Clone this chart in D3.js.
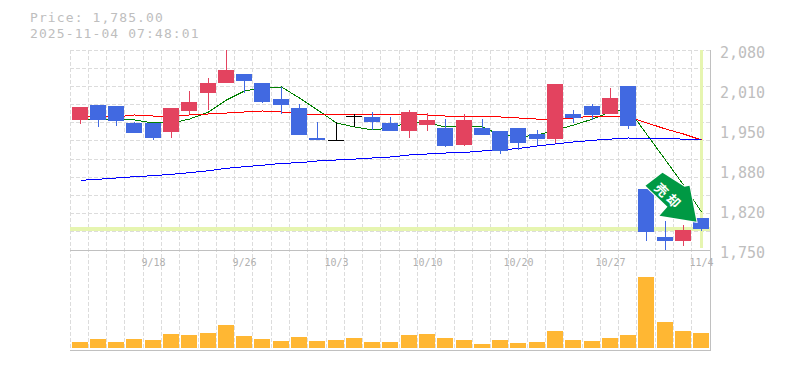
<!DOCTYPE html>
<html>
<head>
<meta charset="utf-8">
<script src="https://cdn.jsdelivr.net/npm/d3@7"></script>
<style>
    html, body { margin: 0; padding: 0; background: #fff; }
    svg { display: block; }
    text { font-family: 'DejaVu Sans Mono', monospace; fill: #bebebe; }
</style>
</head>
<body>
<svg id="chart" width="785" height="370"></svg>
<script>
const priceText = 'Price: 1,785.00';
const timeText = '2025-11-04 07:48:01';

const opens = [1964, 1989, 1988, 1960, 1960, 1945, 1979, 2009, 2026, 2040, 2026, 1999, 1984, 1935, 1932, 1971, 1969, 1960, 1946, 1956, 1951, 1922, 1951, 1946, 1951, 1941, 1933, 1974, 1988, 1974, 2021, 1851, 1771, 1765, 1803];
const closes = [1986, 1964, 1964, 1943, 1936, 1984, 1994, 2026, 2047, 2029, 1994, 1989, 1940, 1932, 1932, 1971, 1960, 1946, 1978, 1964, 1922, 1964, 1940, 1913, 1926, 1933, 2024, 1968, 1973, 2001, 1955, 1780, 1765, 1783, 1785];
const highs = [1986, 1989, 1988, 1961, 1960, 1984, 2012, 2034, 2080, 2040, 2026, 2019, 1991, 1961, 1961, 1974, 1978, 1969, 1981, 1976, 1966, 1974, 1966, 1946, 1951, 1948, 2024, 1981, 1991, 2017, 2021, 1851, 1798, 1791, 1803];
const lows = [1958, 1953, 1955, 1943, 1931, 1935, 1974, 1981, 2026, 2009, 1992, 1974, 1940, 1932, 1932, 1953, 1948, 1946, 1935, 1946, 1920, 1922, 1940, 1908, 1915, 1923, 1926, 1960, 1965, 1974, 1950, 1765, 1750, 1757, 1781];
const volumes = [6, 9, 6, 9, 8, 14, 13, 15, 23, 12, 9, 7, 11, 7, 8, 10, 6, 6, 13, 14, 10, 8, 4, 8, 5, 6, 17, 8, 7, 10, 13, 71, 26, 17, 15];

const maShort = [1966, 1966, 1966, 1964.5, 1959.6, 1959.6, 1966, 1977.7, 1997.5, 2012.4, 2017.3, 2019, 2000.8, 1981, 1959.6, 1953, 1948, 1951.3, 1961, 1959.6, 1953, 1953, 1953, 1939.8, 1936.5, 1939.8, 1948, 1956, 1966, 1977.7, 1982.6, 1941.4, 1898.5, 1857.3, 1812.7];
const maMid = [1969.5, 1969.5, 1969.5, 1972.8, 1971, 1971, 1972.8, 1974.4, 1976, 1977.7, 1979.4, 1977.7, 1974.4, 1972.8, 1972.8, 1972.8, 1972.8, 1972.8, 1972.8, 1972.8, 1971, 1971, 1969.5, 1969.5, 1967.8, 1966, 1966, 1967.8, 1971, 1971, 1969.5, 1960, 1949.7, 1941.4, 1931.5];
const maLong = [1865, 1866.7, 1868.8, 1871, 1872.6, 1874.9, 1877.5, 1880.8, 1884.8, 1887.4, 1889.8, 1893, 1894, 1896.9, 1898.5, 1900, 1901.8, 1903.5, 1906.8, 1908.4, 1910, 1910.9, 1913.4, 1915, 1917.5, 1921.6, 1924.9, 1928.2, 1931, 1933, 1934.8, 1934, 1933.6, 1933, 1932.3];

const priceTicks = [2080, 2014, 1948, 1882, 1816, 1750];
const priceLabels = ['2,080', '2,010', '1,950', '1,880', '1,820', '1,750'];
const dateTicks = [4, 9, 14, 19, 24, 29, 34];
const dateLabels = ['9/18', '9/26', '10/3', '10/10', '10/20', '10/27', '11/4'];
const lastPrice = 1785;

const svg = d3.select('#chart');

const x = d3.scaleBand().domain(d3.range(opens.length)).range([70, 710]);
const y = d3.scaleLinear().domain([1750, 2080]).range([250, 50]);
const yVol = d3.scaleLinear().domain([0, 71]).range([348, 277]);

// bars sit on whole pixels, center is 10px in from the band edge
const left = i => Math.floor(x(i));
const center = i => left(i) + 10.5;

const grid = svg.append('g')
    .attr('stroke', '#dcdcdc')
    .attr('stroke-dasharray', '4,2')
    .attr('shape-rendering', 'crispEdges');

grid.selectAll('.v')
    .data(x.domain())
    .enter().append('line')
        .attr('x1', d => left(d) + 0.5)
        .attr('x2', d => left(d) + 0.5)
        .attr('y1', 50)
        .attr('y2', 350);

grid.selectAll('.h')
    .data(d3.range(11))
    .enter().append('line')
        .attr('x1', 70)
        .attr('x2', 710)
        .attr('y1', d => Math.floor(50 + d * 200 / 11) + 0.5)
        .attr('y2', d => Math.floor(50 + d * 200 / 11) + 0.5);

// current price and current time markers
svg.append('rect')
    .attr('x', 70)
    .attr('y', Math.round(y(lastPrice)) - 2)
    .attr('width', 640)
    .attr('height', 4)
    .attr('fill', '#e6f5b0');

svg.append('rect')
    .attr('x', center(34) - 1.5)
    .attr('y', 50)
    .attr('width', 3)
    .attr('height', 198)
    .attr('fill', '#e6f5b0');

// frame
const frame = svg.append('g')
    .attr('stroke', '#c0c0c0')
    .attr('shape-rendering', 'crispEdges');
frame.append('line').attr('x1', 70).attr('x2', 710).attr('y1', 250.5).attr('y2', 250.5);
frame.append('line').attr('x1', 70).attr('x2', 710).attr('y1', 350.5).attr('y2', 350.5);
frame.append('line').attr('x1', 710.5).attr('x2', 710.5).attr('y1', 50).attr('y2', 351);

const maLine = d3.line()
    .x((d, i) => center(i))
    .y(d => y(d));

[[maShort, '#008000'], [maMid, '#ff0000'], [maLong, '#0000ff']].forEach(function(s) {
    svg.append('path')
        .attr('d', maLine(s[0]))
        .attr('fill', 'none')
        .attr('stroke', s[1])
        .attr('shape-rendering', 'crispEdges');
});

const candleColor = i => {
    if (closes[i] > opens[i]) return '#e3435f';
    if (closes[i] < opens[i]) return '#4169e1';
    return '#000';
};

const candles = svg.append('g')
    .attr('shape-rendering', 'crispEdges');

candles.selectAll('.wick')
    .data(x.domain())
    .enter().append('line')
        .attr('x1', center)
        .attr('x2', center)
        .attr('y1', i => y(highs[i]))
        .attr('y2', i => y(lows[i]))
        .attr('stroke', candleColor);

candles.selectAll('.body')
    .data(x.domain())
    .enter().append('rect')
        .attr('x', i => left(i) + 2)
        .attr('y', i => Math.round(y(Math.max(opens[i], closes[i]))))
        .attr('width', 16)
        .attr('height', i => Math.max(1, Math.round(Math.abs(y(opens[i]) - y(closes[i])))))
        .attr('fill', candleColor);

svg.append('g')
    .attr('shape-rendering', 'crispEdges')
    .selectAll('rect')
    .data(x.domain())
    .enter().append('rect')
        .attr('x', i => left(i) + 2)
        .attr('y', i => yVol(volumes[i]))
        .attr('width', 16)
        .attr('height', i => yVol(0) - yVol(volumes[i]))
        .attr('fill', '#ffb733');

// signal arrow, anchored to the last candle
const arrow = svg.append('g')
    .attr('transform', `translate(${center(34)},${y(lastPrice)})`);

arrow.append('path')
    .attr('d', 'M-39,-56 L-17,-42 L-12,-43 L-5,-7 L-42,-13 L-34,-22 L-56,-43 Z')
    .attr('fill', '#009944')
    .attr('stroke', '#fff')
    .attr('stroke-width', 2)
    .attr('paint-order', 'stroke');

arrow.selectAll('text')
    .data(['売', '却'])
    .enter().append('text')
        .attr('transform', (d, i) => `translate(${-40 + i * 12},${-39 + i * 11}) rotate(45)`)
        .attr('text-anchor', 'middle')
        .attr('dy', '0.38em')
        .style('font-family', "'Noto Sans CJK JP', sans-serif")
        .style('font-weight', 700)
        .style('font-size', '13px')
        .style('fill', '#fff')
        .text(d => d);

// labels
svg.append('g')
    .selectAll('text')
    .data(priceTicks)
    .enter().append('text')
        .attr('x', 720)
        .attr('y', d => y(d) + 8)
        .attr('font-size', '15px')
        .text((d, i) => priceLabels[i]);

svg.append('g')
    .selectAll('text')
    .data(dateTicks)
    .enter().append('text')
        .attr('x', center)
        .attr('y', 266)
        .attr('text-anchor', 'middle')
        .attr('font-size', '10px')
        .style('fill', '#b0b0b0')
        .text((d, i) => dateLabels[i]);

// 13px plus spacing keeps the two header lines from touching
svg.append('text')
    .attr('x', 30)
    .attr('y', 22)
    .attr('font-size', '13px')
    .attr('letter-spacing', '1.1px')
    .text(priceText);

svg.append('text')
    .attr('x', 30)
    .attr('y', 38)
    .attr('font-size', '13px')
    .attr('letter-spacing', '1.1px')
    .text(timeText);
</script>
</body>
</html>
